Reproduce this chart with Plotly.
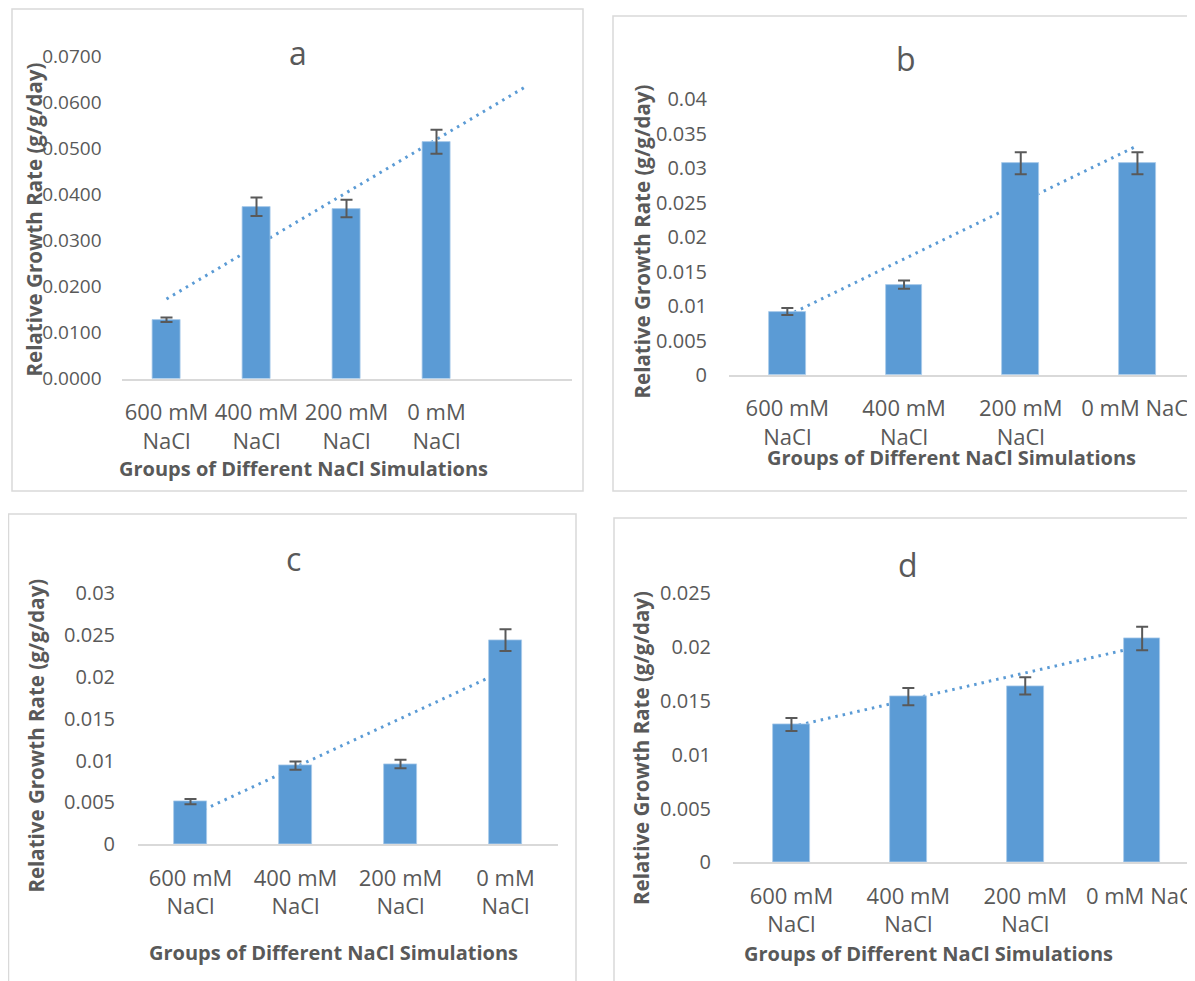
import numpy as np
import plotly.graph_objects as go

W, H = 1195, 981
OFF = 8  # page body margin: figure content is laid out in page pixels minus this offset

# ---------------- data ----------------
labels_ac = ["600 mM<br>NaCl", "400 mM<br>NaCl", "200 mM<br>NaCl", "0 mM<br>NaCl"]
labels_bd = ["600 mM<br>NaCl", "400 mM<br>NaCl", "200 mM<br>NaCl", "0 mM NaCl"]

rgr_a = [0.0128, 0.0373, 0.0369, 0.0514]
err_a = [0.0005, 0.0020, 0.0019, 0.0026]
rgr_b = [0.0092, 0.0131, 0.0307, 0.0307]
err_b = [0.0005, 0.0006, 0.0016, 0.0016]
rgr_c = [0.0051, 0.0094, 0.0096, 0.0244]
err_c = [0.0003, 0.0005, 0.0005, 0.0013]
rgr_d = [0.0128, 0.0154, 0.0164, 0.0208]
err_d = [0.0006, 0.0008, 0.0008, 0.0011]

ymax_a, dtick_a = 0.07, 0.01
ymax_b, dtick_b = 0.04, 0.005
ymax_c, dtick_c = 0.03, 0.005
ymax_d, dtick_d = 0.025, 0.005

y_title = "Relative Growth Rate (g/g/day)"
x_title = "Groups of Different NaCl Simulations"

# ---------------- style / layout ----------------
BAR = "#5B9BD5"
TXT = "#595959"
FONT = "Open Sans"

panels = [
    dict(name="a", labels=labels_ac, vals=rgr_a, errs=err_a, ymax=ymax_a, dtick=dtick_a, fmt="%.4f",
         forecast=1, left=121.5, slot=90.0, nslots=5, zero=378.7, top=56.0, yfs=19, ystand=19,
         border=(12, 9, 583, 491), title=(297.5, 52), ytit=(33.5, 220), xtit=(303.5, 469)),
    dict(name="b", labels=labels_bd, vals=rgr_b, errs=err_b, ymax=ymax_b, dtick=dtick_b, fmt="%g",
         forecast=0, left=729.0, slot=116.7, nslots=4, zero=375.0, top=99.0, yfs=20, ystand=21,
         border=(613, 16, 1215, 491), title=(906, 59), ytit=(641.5, 242), xtit=(951, 457)),
    dict(name="c", labels=labels_ac, vals=rgr_c, errs=err_c, ymax=ymax_c, dtick=dtick_c, fmt="%g",
         forecast=0, left=138.0, slot=105.0, nslots=4, zero=844.3, top=593.3, yfs=20, ystand=22,
         border=(8.5, 514, 576, 1000), title=(293, 558), ytit=(35.6, 736), xtit=(333, 952)),
    dict(name="d", labels=labels_bd, vals=rgr_d, errs=err_d, ymax=ymax_d, dtick=dtick_d, fmt="%g",
         forecast=0, left=733.0, slot=116.9, nslots=4, zero=862.3, top=593.3, yfs=20, ystand=21,
         border=(614, 518, 1215, 1000), title=(908, 564), ytit=(641, 748), xtit=(928, 953)),
]


def px(x):
    return (x - OFF) / W


def py(y):
    return 1 - (y - OFF) / H


fig = go.Figure()
layout = {}
annotations = []
shapes = []

for i, p in enumerate(panels, start=1):
    o = i + 4
    xs = np.arange(len(p["vals"]))
    right = p["left"] + p["nslots"] * p["slot"]
    right_c = min(right, W + OFF)
    xr = [-0.5, -0.5 + (right_c - p["left"]) / p["slot"]]
    xdom = [px(p["left"]), px(right_c)]
    ydom = [py(p["zero"]), py(p["top"])]
    yr = [0, p["ymax"]]
    n_t = int(round(p["ymax"] / p["dtick"]))
    tvals = [round(k * p["dtick"], 6) for k in range(n_t + 1)]
    ttext = [p["fmt"] % v for v in tvals]

    # linear trendline (least squares on the data), drawn behind bars
    coef = np.polyfit(xs, p["vals"], 1)
    xt = np.array([0, len(xs) - 1 + p["forecast"]])
    yt = np.polyval(coef, xt)
    fig.add_trace(go.Scatter(x=xt, y=yt, mode="lines", xaxis=f"x{i}", yaxis=f"y{i}",
                             line=dict(color=BAR, width=3, dash="2.5px,5px"),
                             showlegend=False, hoverinfo="skip"))
    fig.add_trace(go.Bar(x=xs, y=p["vals"], xaxis=f"x{o}", yaxis=f"y{o}", width=0.313,
                         marker=dict(color=BAR, line=dict(color="#A9CBEA", width=0.8)),
                         error_y=dict(type="data", array=p["errs"], color="#595959",
                                      thickness=2, width=6),
                         showlegend=False))

    layout[f"xaxis{i}"] = dict(domain=xdom, range=xr, anchor=f"y{i}", tickvals=list(xs),
                               ticktext=p["labels"], showline=True, linecolor="#D9D9D9",
                               linewidth=2, showgrid=False, zeroline=False, ticks="",
                               ticklabelstandoff=13, automargin=False,
                               tickfont=dict(family=FONT, size=22, color=TXT))
    layout[f"yaxis{i}"] = dict(domain=ydom, range=yr, anchor=f"x{i}", tickvals=tvals,
                               ticktext=ttext, showline=False, showgrid=False, zeroline=False,
                               ticks="", ticklabelstandoff=int(p["ystand"]), automargin=False,
                               tickfont=dict(family=FONT, size=p["yfs"], color=TXT))
    layout[f"xaxis{o}"] = dict(overlaying=f"x{i}", range=xr, anchor=f"y{o}", visible=False,
                               automargin=False)
    layout[f"yaxis{o}"] = dict(overlaying=f"y{i}", range=yr, anchor=f"x{o}", visible=False,
                               automargin=False)

    x0, y0, x1, y1 = p["border"]
    shapes.append(dict(type="rect", xref="paper", yref="paper", x0=px(x0), x1=px(x1),
                       y0=py(y1), y1=py(y0), line=dict(color="#D9D9D9", width=1.5),
                       layer="below"))
    annotations.append(dict(text=p["name"], x=px(p["title"][0]), y=py(p["title"][1]),
                            xref="paper", yref="paper", showarrow=False, xanchor="center",
                            yanchor="middle", font=dict(family=FONT, size=32, color=TXT)))
    annotations.append(dict(text=f"<b>{y_title}</b>", x=px(p["ytit"][0]), y=py(p["ytit"][1]),
                            xref="paper", yref="paper", showarrow=False, textangle=-90,
                            xanchor="center", yanchor="middle",
                            font=dict(family=FONT, size=20.5, color=TXT)))
    annotations.append(dict(text=f"<b>{x_title}</b>", x=px(p["xtit"][0]), y=py(p["xtit"][1]),
                            xref="paper", yref="paper", showarrow=False,
                            xanchor="center", yanchor="middle",
                            font=dict(family=FONT, size=20, color=TXT)))

fig.update_layout(width=W, height=H, margin=dict(l=0, r=0, t=0, b=0, pad=0, autoexpand=False),
                  paper_bgcolor="white", plot_bgcolor="rgba(0,0,0,0)",
                  showlegend=False, bargap=0, annotations=annotations, shapes=shapes,
                  font=dict(family=FONT, color=TXT), **layout)

fig.write_html("out.html")
